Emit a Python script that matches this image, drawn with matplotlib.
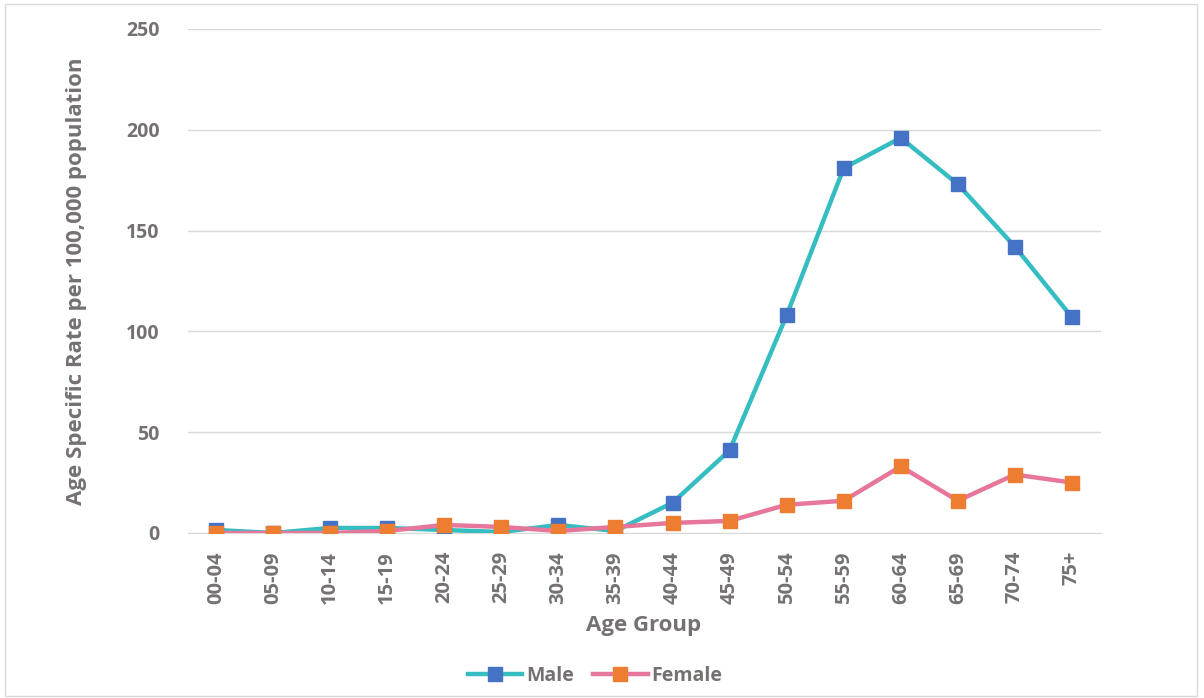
import matplotlib.pyplot as plt
from matplotlib.patches import Rectangle

age_groups = ['00-04', '05-09', '10-14', '15-19', '20-24', '25-29', '30-34', '35-39',
              '40-44', '45-49', '50-54', '55-59', '60-64', '65-69', '70-74', '75+']
male = [1.5, 0, 2.5, 2.5, 1.5, 0.5, 4, 1, 15, 41, 108, 181, 196, 173, 142, 107]
female = [0, 0, 0, 1, 4, 3, 1, 3, 5, 6, 14, 16, 33, 16, 29, 25]

plt.rcParams['font.family'] = ['Open Sans', 'DejaVu Sans']
grey = '#757171'

fig = plt.figure(figsize=(12.04, 6.98), dpi=100)
ax = fig.add_axes([187.5 / 1204, 1 - 533 / 698, (1100.5 - 187.5) / 1204, (533 - 29) / 698])

x = range(len(age_groups))
ax.plot(x, male, color='#36bdc1', lw=3.2, marker='s', ms=10, mfc='#4472c4', mec='#4472c4',
        label='Male', zorder=3)
ax.plot(x, female, color='#e6779a', lw=3.2, marker='s', ms=10, mfc='#ed7d31', mec='#ed7d31',
        label='Female', zorder=4)

ax.set_xlim(-0.5, len(age_groups) - 0.5)
ax.set_ylim(0, 250)
ax.set_yticks(range(0, 251, 50))
ax.set_xticks(list(x))
ax.set_xticklabels(age_groups, rotation=90)
ax.tick_params(length=0, labelsize=14, labelcolor=grey)
ax.tick_params(axis='y', pad=20)
ax.tick_params(axis='x', pad=13, labelsize=14.5)
for lab in ax.get_xticklabels() + ax.get_yticklabels():
    lab.set_fontweight('bold')
ax.yaxis.grid(True, color='#d9d9d9', lw=1)
ax.set_axisbelow(True)
for s in ['top', 'right', 'left']:
    ax.spines[s].set_visible(False)
ax.spines['bottom'].set_color('#d9d9d9')

ax.set_xlabel('Age Group', fontsize=16, fontweight='bold', color=grey, labelpad=8)
ax.set_ylabel('Age Specific Rate per 100,000 population', fontsize=16, fontweight='bold',
              color=grey, labelpad=28)

leg = fig.legend(loc='center', bbox_to_anchor=(595 / 1204, 1 - 676 / 698), ncol=2, frameon=False,
                 fontsize=14, handlelength=2.8, columnspacing=1.0, handletextpad=0.2)
for t in leg.get_texts():
    t.set_color(grey)
    t.set_fontweight('bold')

fig.patches.append(Rectangle((5 / 1204, 2 / 698), 1192 / 1204, 692 / 698, transform=fig.transFigure,
                             fill=False, edgecolor='#d9d9d9', lw=1))

fig.savefig('out.png', dpi=100)
